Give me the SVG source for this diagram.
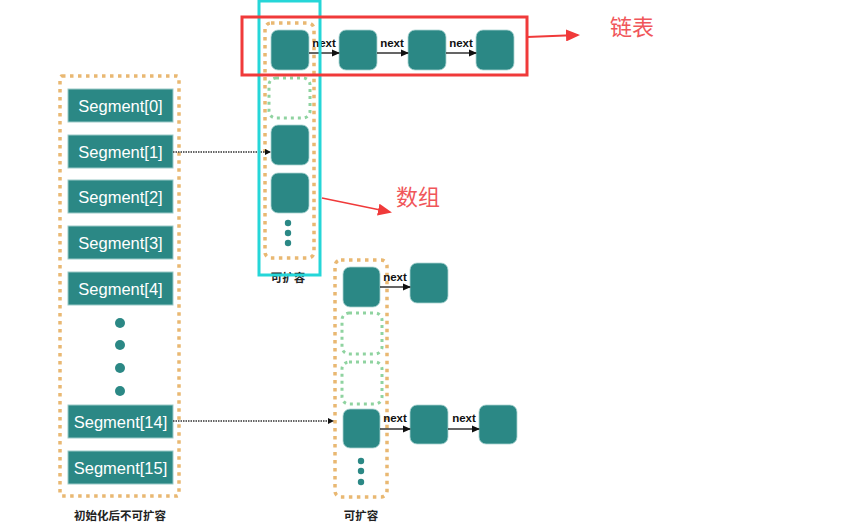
<svg xmlns="http://www.w3.org/2000/svg" width="866" height="524" viewBox="0 0 866 524">
<defs>
<style>
.frame{fill:none;stroke:#e9b872;stroke-width:3.5;stroke-dasharray:3.5 4.5}
.empty{fill:none;stroke:#8fd3a0;stroke-width:3;stroke-dasharray:3 4}
.node{fill:#2b8885;stroke:#a9d3d1;stroke-width:0.8}
.seg{fill:#2b8885;stroke:#9ccac8;stroke-width:1}
.segt{font-family:"Liberation Sans",Arial,sans-serif;font-size:16.5px;fill:#ffffff;text-anchor:middle}
.dot{fill:#2b8885}
.lbl{font-family:"Liberation Sans",Arial,sans-serif;font-size:11.5px;font-weight:bold;fill:#111;text-anchor:middle}
.cap{font-family:"Noto Sans CJK SC",sans-serif;font-size:11.5px;font-weight:bold;fill:#222;text-anchor:middle}
.red{font-family:"Noto Sans CJK SC",sans-serif;font-size:22px;fill:#f0565a}
.arr{stroke:#111;stroke-width:1.3;fill:none;marker-end:url(#ah)}
.dash{stroke:#333;stroke-width:1.3;stroke-dasharray:1.5 1;fill:none;marker-end:url(#ah2)}
</style>
<marker id="ah" markerWidth="8" markerHeight="8" refX="7" refY="4" orient="auto" markerUnits="userSpaceOnUse"><path d="M0,0.5 L8,4 L0,7.5 Z" fill="#111"/></marker>
<marker id="ah2" markerWidth="6" markerHeight="6" refX="5" refY="3" orient="auto" markerUnits="userSpaceOnUse"><path d="M0,0 L6,3 L0,6 Z" fill="#111"/></marker>
<marker id="ahr" markerWidth="14" markerHeight="12" refX="12" refY="6" orient="auto" markerUnits="userSpaceOnUse"><path d="M0,0 L14,6 L0,12 Z" fill="#f03a3a"/></marker>
</defs>
<rect width="866" height="524" fill="#ffffff"/>

<g id="segments">
<rect class="frame" x="60" y="76" width="119" height="420" rx="2"/>
<g id="seg0"><rect class="seg" x="68" y="89" width="105" height="33"/><text class="segt" x="120.5" y="111.5">Segment[0]</text></g>
<g id="seg1"><rect class="seg" x="68" y="135" width="105" height="33"/><text class="segt" x="120.5" y="157.5">Segment[1]</text></g>
<g id="seg2"><rect class="seg" x="68" y="180" width="105" height="33"/><text class="segt" x="120.5" y="202.5">Segment[2]</text></g>
<g id="seg3"><rect class="seg" x="68" y="226" width="105" height="33"/><text class="segt" x="120.5" y="248.5">Segment[3]</text></g>
<g id="seg4"><rect class="seg" x="68" y="272" width="105" height="33"/><text class="segt" x="120.5" y="294.5">Segment[4]</text></g>
<circle class="dot" cx="120" cy="323" r="5"/>
<circle class="dot" cx="120" cy="345" r="5"/>
<circle class="dot" cx="120" cy="368" r="5"/>
<circle class="dot" cx="120" cy="391" r="5"/>
<g id="seg14"><rect class="seg" x="68" y="405" width="105" height="33"/><text class="segt" x="120.5" y="427.5">Segment[14]</text></g>
<g id="seg15"><rect class="seg" x="68" y="451" width="105" height="33"/><text class="segt" x="120.5" y="473.5">Segment[15]</text></g>
<text class="cap" x="120" y="520">初始化后不可扩容</text>
</g>

<g id="array1">
<rect class="frame" x="265" y="23" width="49" height="235" rx="6"/>
<rect class="node" x="271" y="30" width="38" height="40" rx="7"/>
<rect class="empty" x="269" y="78" width="41" height="40" rx="7"/>
<rect class="node" x="271" y="125" width="38" height="40" rx="7"/>
<rect class="node" x="271" y="173" width="38" height="40" rx="7"/>
<circle class="dot" cx="288" cy="223" r="3.2"/>
<circle class="dot" cx="288" cy="233" r="3.2"/>
<circle class="dot" cx="288" cy="243" r="3.2"/>
<text class="cap" x="288" y="282">可扩容</text>
</g>

<g id="list1">
<rect class="node" x="339" y="30" width="38" height="40" rx="7"/>
<rect class="node" x="408" y="30" width="38" height="40" rx="7"/>
<rect class="node" x="476" y="30" width="38" height="40" rx="7"/>
</g>

<g id="array2">
<rect class="frame" x="335" y="260" width="52" height="237" rx="6"/>
<rect class="node" x="343" y="267" width="37" height="40" rx="7"/>
<rect class="empty" x="342" y="313" width="40" height="41" rx="7"/>
<rect class="empty" x="342" y="362" width="40" height="42" rx="7"/>
<rect class="node" x="343" y="409" width="37" height="39" rx="7"/>
<circle class="dot" cx="361" cy="461" r="3.2"/>
<circle class="dot" cx="361" cy="471" r="3.2"/>
<circle class="dot" cx="361" cy="482" r="3.2"/>
<text class="cap" x="361" y="520">可扩容</text>
</g>

<g id="list2">
<rect class="node" x="410" y="263" width="38" height="40" rx="7"/>
<rect class="node" x="410" y="405" width="38" height="39" rx="7"/>
<rect class="node" x="479" y="405" width="38" height="39" rx="7"/>
</g>

<g id="connectors">
<line class="arr" x1="309" y1="53" x2="339" y2="53"/>
<line class="arr" x1="377" y1="53" x2="408" y2="53"/>
<line class="arr" x1="446" y1="53" x2="476" y2="53"/>
<text class="lbl" x="324" y="47">next</text>
<text class="lbl" x="392" y="47">next</text>
<text class="lbl" x="461" y="47">next</text>
<line class="arr" x1="380" y1="287" x2="410" y2="287"/>
<text class="lbl" x="395" y="281">next</text>
<line class="arr" x1="380" y1="429" x2="410" y2="429"/>
<line class="arr" x1="448" y1="429" x2="479" y2="429"/>
<text class="lbl" x="395" y="422">next</text>
<text class="lbl" x="464" y="422">next</text>
<line class="dash" x1="173" y1="152" x2="270" y2="152"/>
<line class="dash" x1="173" y1="421" x2="333" y2="421"/>
</g>

<g id="highlight">
<rect x="259" y="1" width="61" height="274" fill="none" stroke="#25d6d8" stroke-width="3"/>
<rect x="242" y="17" width="285" height="58" fill="none" stroke="#f03a3a" stroke-width="3"/>
<line x1="527" y1="37" x2="578" y2="35" stroke="#f03a3a" stroke-width="2" marker-end="url(#ahr)"/>
<text class="red" x="610" y="35">链表</text>
<line x1="322" y1="198" x2="390" y2="212" stroke="#f03a3a" stroke-width="1.5" marker-end="url(#ahr)"/>
<text class="red" x="396" y="205">数组</text>
</g>
</svg>
